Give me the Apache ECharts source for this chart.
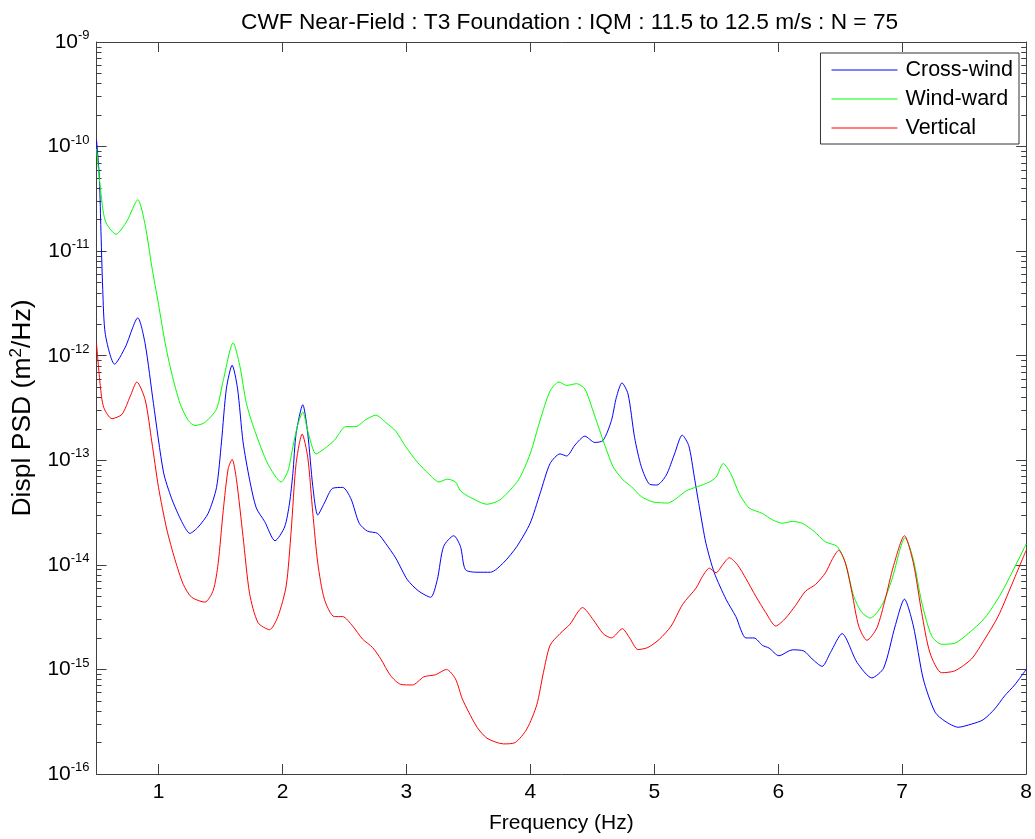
<!DOCTYPE html>
<html><head><meta charset="utf-8">
<script src="https://cdn.jsdelivr.net/npm/echarts@6/dist/echarts.min.js"></script>
<style>html,body{margin:0;padding:0;background:#fff}#c{width:1035px;height:839px}</style>
</head><body><div id="c"></div>
<script>
// ---------- data ----------
const cwFreq = [0.50,0.522,0.534,0.55,0.571,0.646,0.731,0.833,0.892,0.959,1.04,1.106,1.187,1.253,1.32,1.40,1.468,1.508,1.548,1.594,1.637,1.682,1.735,1.789,1.856,1.94,2.017,2.057,2.084,2.11,2.164,2.204,2.245,2.285,2.338,2.405,2.486,2.552,2.619,2.686,2.767,2.833,2.914,3.008,3.10,3.195,3.249,3.30,3.382,3.436,3.476,3.57,3.677,3.784,3.891,3.998,4.078,4.159,4.239,4.293,4.36,4.44,4.52,4.587,4.654,4.694,4.739,4.788,4.841,4.895,4.962,5.02,5.096,5.163,5.225,5.278,5.323,5.363,5.417,5.484,5.578,5.658,5.739,5.805,5.872,5.926,6.006,6.113,6.207,6.273,6.354,6.421,6.515,6.635,6.755,6.85,6.943,7.018,7.09,7.17,7.265,7.345,7.452,7.559,7.653,7.747,7.827,7.907,8.0];
const cwPsd = [1.15e-10,5.3e-11,1.8e-11,4.3e-12,1.6e-12,8.3e-13,1.2e-12,2.3e-12,1.3e-12,3.5e-13,7.7e-14,4.3e-14,2.6e-14,2.0e-14,2.3e-14,3.1e-14,5.5e-14,1.5e-13,4.9e-13,8.1e-13,4.9e-13,1.5e-13,6.5e-14,3.5e-14,2.6e-14,1.7e-14,2.3e-14,3.9e-14,7.5e-14,1.8e-13,3.4e-13,1.8e-13,5.6e-14,3.0e-14,3.9e-14,5.4e-14,5.5e-14,4.3e-14,2.5e-14,2.1e-14,2.0e-14,1.6e-14,1.16e-14,7.2e-15,5.6e-15,4.9e-15,7.2e-15,1.5e-14,1.9e-14,1.5e-14,9.0e-15,8.5e-15,8.5e-15,1.05e-14,1.5e-14,2.5e-14,4.8e-14,9.3e-14,1.15e-13,1.1e-13,1.4e-13,1.7e-13,1.48e-13,1.55e-13,2.4e-13,4.0e-13,5.5e-13,4.3e-13,1.65e-13,8.7e-14,5.9e-14,5.8e-14,7.2e-14,1.15e-13,1.74e-13,1.38e-13,6.9e-14,3.6e-14,1.6e-14,8.4e-15,4.7e-15,3.2e-15,2.0e-15,2.0e-15,1.7e-15,1.6e-15,1.35e-15,1.54e-15,1.5e-15,1.26e-15,1.07e-15,1.45e-15,2.2e-15,1.17e-15,8.3e-16,1.03e-15,2.6e-15,4.7e-15,2.6e-15,8.1e-16,3.9e-16,3.2e-16,2.8e-16,3.0e-16,3.3e-16,4.2e-16,5.6e-16,7.1e-16,1.0e-15];

const wwFreq = [0.50,0.53,0.571,0.657,0.745,0.833,0.892,0.946,1.0,1.053,1.106,1.173,1.24,1.294,1.374,1.468,1.522,1.602,1.655,1.709,1.775,1.883,1.99,2.044,2.084,2.124,2.164,2.204,2.271,2.338,2.418,2.512,2.592,2.673,2.753,2.833,2.914,2.994,3.088,3.181,3.262,3.329,3.396,3.436,3.503,3.65,3.757,3.904,3.998,4.078,4.159,4.231,4.293,4.373,4.44,4.506,4.587,4.667,4.747,4.815,4.895,4.988,5.109,5.176,5.257,5.35,5.444,5.498,5.556,5.618,5.685,5.765,5.872,5.952,6.033,6.113,6.193,6.287,6.381,6.475,6.542,6.609,6.675,6.743,6.836,6.916,7.024,7.09,7.157,7.237,7.318,7.425,7.532,7.666,7.8,8.0];
const wwPsd = [9.5e-11,4.1e-11,1.94e-11,1.45e-11,1.94e-11,3.1e-11,1.78e-11,7.1e-12,3.1e-12,1.33e-12,6.8e-13,3.5e-13,2.4e-13,2.15e-13,2.3e-13,3.1e-13,5.8e-13,1.33e-12,8.1e-13,3.5e-13,1.94e-13,9.2e-14,6.2e-14,7.9e-14,1.35e-13,2.2e-13,2.9e-13,1.9e-13,1.15e-13,1.29e-13,1.55e-13,2.1e-13,2.1e-13,2.45e-13,2.7e-13,2.3e-13,1.9e-13,1.35e-13,9.6e-14,7.4e-14,6.2e-14,6.6e-14,6.2e-14,5.1e-14,4.5e-14,3.8e-14,4.2e-14,6.5e-14,1.15e-13,2.4e-13,4.6e-13,5.6e-13,5.2e-13,5.4e-13,4.8e-13,2.96e-13,1.55e-13,8.7e-14,6.5e-14,5.6e-14,4.5e-14,4.0e-14,3.9e-14,4.3e-14,5.1e-14,5.6e-14,6.2e-14,6.9e-14,9.3e-14,7.4e-14,4.8e-14,3.5e-14,3.1e-14,2.7e-14,2.5e-14,2.6e-14,2.5e-14,2.1e-14,1.66e-14,1.5e-14,1.04e-14,5.0e-15,3.5e-15,3.1e-15,4.1e-15,7.2e-15,1.82e-14,1.12e-14,4.4e-15,2.1e-15,1.74e-15,1.78e-15,2.2e-15,3.1e-15,5.4e-15,1.58e-14];

const vtFreq = [0.50,0.53,0.558,0.624,0.705,0.772,0.825,0.892,0.946,1.0,1.066,1.133,1.2,1.267,1.374,1.441,1.481,1.522,1.562,1.594,1.629,1.682,1.735,1.803,1.896,1.963,2.03,2.07,2.11,2.159,2.204,2.245,2.285,2.338,2.418,2.486,2.566,2.646,2.727,2.793,2.873,2.954,3.048,3.141,3.235,3.323,3.396,3.449,3.503,3.57,3.65,3.784,3.878,3.972,4.052,4.105,4.159,4.239,4.319,4.421,4.506,4.587,4.654,4.742,4.801,4.868,4.948,5.042,5.136,5.229,5.337,5.39,5.444,5.498,5.551,5.605,5.671,5.739,5.819,5.899,5.98,6.06,6.14,6.22,6.301,6.381,6.434,6.488,6.542,6.595,6.649,6.715,6.796,6.863,6.93,7.018,7.09,7.157,7.224,7.318,7.425,7.559,7.666,7.773,7.88,8.0];
const vtPsd = [1.3e-12,5.2e-13,3.2e-13,2.5e-13,2.75e-13,4.1e-13,5.6e-13,3.8e-13,1.5e-13,5.5e-14,2.2e-14,1.12e-14,6.5e-15,4.9e-15,4.4e-15,5.7e-15,1.03e-14,3.3e-14,8.3e-14,1.02e-13,6.5e-14,1.86e-14,5.3e-15,2.8e-15,2.4e-15,3.2e-15,6.3e-15,2.1e-14,9.3e-14,1.78e-13,1.07e-13,3.1e-14,1.04e-14,4.7e-15,3.2e-15,3.2e-15,2.6e-15,1.95e-15,1.62e-15,1.26e-15,8.7e-16,7.2e-16,7.1e-16,8.5e-16,8.9e-16,1.0e-15,8.1e-16,5.3e-16,3.9e-16,2.8e-16,2.2e-16,1.94e-16,2.0e-16,2.7e-16,4.6e-16,9.3e-16,1.7e-15,2.2e-15,2.7e-15,3.9e-15,3.0e-15,2.2e-15,2.0e-15,2.45e-15,2.0e-15,1.55e-15,1.62e-15,1.95e-15,2.6e-15,4.2e-15,6.0e-15,7.8e-15,9.3e-15,8.4e-15,1.0e-14,1.17e-14,1.0e-14,7.4e-15,5.0e-15,3.5e-15,2.6e-15,3.1e-15,4.1e-15,5.6e-15,6.5e-15,8.4e-15,1.12e-14,1.38e-14,1.04e-14,5.4e-15,2.6e-15,1.9e-15,2.5e-15,4.7e-15,9.8e-15,1.9e-14,1.04e-14,3.5e-15,1.44e-15,9.3e-16,9.7e-16,1.26e-15,1.95e-15,3.2e-15,6.3e-15,1.38e-14];

const seriesNames = ['Cross-wind','Wind-ward','Vertical'];
const xTicks = [1,2,3,4,5,6,7,8];
const yTicks = [1e-16,1e-15,1e-14,1e-13,1e-12,1e-11,1e-10,1e-9];
// minor log ticks (2..9 x 10^k)
const yMinorTicks = [];
for (let k = -16; k < -9; k++) for (let m = 2; m <= 9; m++) yMinorTicks.push(m * Math.pow(10, k));

const titleText = 'CWF Near-Field : T3 Foundation : IQM : 11.5 to 12.5 m/s : N = 75';

// ---------- chart ----------
const FONT = '"Liberation Sans", Arial, sans-serif';
const AX = '#404040';
function pairs(xs, ys) { return xs.map((x, i) => [x, ys[i]]); }

const chart = echarts.init(document.getElementById('c'), null, {renderer: 'canvas'});

const xBase = {type: 'value', min: 0.5, max: 8, gridIndex: 0,
  axisLine: {show: true, onZero: false, lineStyle: {color: AX, width: 1}},
  splitLine: {show: false}};
const yBase = {type: 'log', logBase: 10, min: 1e-16, max: 1e-9, gridIndex: 0,
  splitLine: {show: false}, minorTick: {show: false}, minorSplitLine: {show: false}};

const option = {
  animation: false,
  backgroundColor: '#fff',
  title: {text: titleText, left: 241, top: 11, padding: 0,
    textStyle: {fontFamily: FONT, fontSize: 22.7, fontWeight: 'normal', color: '#000'}},
  grid: {left: 95, right: 7, top: 42, bottom: 60, containLabel: false},
  legend: {
    data: seriesNames, orient: 'vertical', right: 16, top: 53,
    icon: 'path://M0,0H66V1H0Z',
    padding: [6, 6, 5, 11], itemGap: 7, itemWidth: 66, itemHeight: 1,
    backgroundColor: '#fff', borderColor: '#333', borderWidth: 1, borderRadius: 0,
    textStyle: {fontFamily: FONT, fontSize: 21.5, color: '#000', lineHeight: 20, padding: [0, 0, 0, 3]}
  },
  xAxis: [
    Object.assign({}, xBase, {position: 'bottom',
      name: 'Frequency (Hz)', nameLocation: 'middle', nameGap: 39,
      nameTextStyle: {fontFamily: FONT, fontSize: 21, color: '#000'},
      axisTick: {show: true, inside: true, length: 10, customValues: xTicks, lineStyle: {color: AX}},
      axisLabel: {show: true, customValues: xTicks, fontFamily: FONT, fontSize: 21, color: '#000', margin: 8}}),
    Object.assign({}, xBase, {position: 'top',
      axisTick: {show: true, inside: true, length: 10, customValues: xTicks, lineStyle: {color: AX}},
      axisLabel: {show: false}})
  ],
  yAxis: [
    Object.assign({}, yBase, {position: 'left',
      name: 'Displ PSD (m{s|2}/Hz)', nameLocation: 'middle', nameGap: 55,
      nameTextStyle: {fontFamily: FONT, fontSize: 26.5, color: '#000',
        rich: {s: {fontFamily: FONT, fontSize: 17, color: '#000', padding: [0, 0, 13, 0]}}},
      axisLine: {show: true, lineStyle: {color: AX, width: 1}},
      axisTick: {show: true, inside: true, length: 10, customValues: yTicks, lineStyle: {color: AX}},
      axisLabel: {show: true, customValues: yTicks, margin: 7,
        formatter: v => '{b|10}{s|' + Math.round(Math.log10(v)) + '}',
        rich: {b: {fontFamily: FONT, fontSize: 21, color: '#000'},
               s: {fontFamily: FONT, fontSize: 13, color: '#000', padding: [0, 0, 13, 0]}}}}),
    Object.assign({}, yBase, {position: 'right',
      axisLine: {show: true, lineStyle: {color: AX, width: 1}},
      axisTick: {show: true, inside: true, length: 10, customValues: yTicks, lineStyle: {color: AX}},
      axisLabel: {show: false}}),
    Object.assign({}, yBase, {position: 'left',
      axisLine: {show: false},
      axisTick: {show: true, inside: true, length: 5, customValues: yMinorTicks, lineStyle: {color: AX}},
      axisLabel: {show: false}}),
    Object.assign({}, yBase, {position: 'right',
      axisLine: {show: false},
      axisTick: {show: true, inside: true, length: 5, customValues: yMinorTicks, lineStyle: {color: AX}},
      axisLabel: {show: false}})
  ],
  series: [
    {name: seriesNames[0], type: 'line', data: pairs(cwFreq, cwPsd), color: '#0000ff'},
    {name: seriesNames[1], type: 'line', data: pairs(wwFreq, wwPsd), color: '#00ff00'},
    {name: seriesNames[2], type: 'line', data: pairs(vtFreq, vtPsd), color: '#ff0000'}
  ].map(s => Object.assign(s, {xAxisIndex: 0, yAxisIndex: 0, symbol: 'none', showSymbol: false,
      smooth: 0.25, lineStyle: {width: 1, color: s.color}, itemStyle: {color: s.color}, z: 3}))
};
chart.setOption(option);
</script>
</body></html>
